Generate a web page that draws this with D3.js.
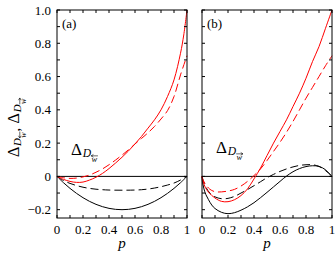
<!DOCTYPE html>
<html><head><meta charset="utf-8">
<script src="https://cdn.jsdelivr.net/npm/d3@7"></script>
<style>body{margin:0;background:#fff}svg{display:block}</style>
</head><body><svg id="c" width="335" height="256" font-family="'Liberation Serif', 'Times New Roman', Times, 'DejaVu Serif', serif"></svg>
<script>
// ---------- data ----------
const panelLabels = ["(a)", "(b)"];
const innerLabelArrows = ["left", "right"];
const xTickValues = [0, 0.2, 0.4, 0.6, 0.8, 1];
const xTickLabels = ["0", "0.2", "0.4", "0.6", "0.8", "1"];
const yTickValues = [-0.2, 0, 0.2, 0.4, 0.6, 0.8, 1.0];
const yTickLabels = ["\u22120.2", "0", "0.2", "0.4", "0.6", "0.8", "1.0"];

// panel (a)
const aBlackSolid = [[0,0],[0.05,-0.038],[0.1,-0.072],[0.15,-0.102],[0.2,-0.128],[0.25,-0.15],[0.3,-0.168],[0.35,-0.182],[0.4,-0.192],[0.45,-0.198],[0.5,-0.2],[0.55,-0.198],[0.6,-0.192],[0.65,-0.182],[0.7,-0.168],[0.75,-0.15],[0.8,-0.128],[0.85,-0.102],[0.9,-0.072],[0.95,-0.038],[1,0]];
const aBlackDashed = [[0,0],[0.05,-0.025],[0.1,-0.042],[0.15,-0.055],[0.2,-0.065],[0.25,-0.072],[0.3,-0.077],[0.35,-0.08],[0.4,-0.082],[0.5,-0.083],[0.6,-0.082],[0.65,-0.08],[0.7,-0.076],[0.75,-0.07],[0.8,-0.062],[0.85,-0.052],[0.9,-0.04],[0.95,-0.022],[1,0]];
const aRedSolid = [[0,0],[0.05,-0.018],[0.1,-0.03],[0.15,-0.036],[0.2,-0.034],[0.25,-0.022],[0.3,-0.005],[0.35,0.018],[0.4,0.047],[0.45,0.08],[0.5,0.115],[0.55,0.153],[0.6,0.195],[0.65,0.24],[0.7,0.29],[0.75,0.34],[0.8,0.4],[0.85,0.48],[0.9,0.58],[0.95,0.74],[0.975,0.85],[1,1.0]];
const aRedDashed = [[0,0],[0.05,-0.008],[0.1,-0.012],[0.15,-0.01],[0.2,-0.003],[0.25,0.008],[0.3,0.025],[0.35,0.045],[0.4,0.07],[0.45,0.098],[0.5,0.128],[0.55,0.16],[0.6,0.195],[0.65,0.228],[0.7,0.262],[0.75,0.3],[0.8,0.345],[0.85,0.395],[0.9,0.48],[0.95,0.61],[1,0.725]];

// panel (b)
const bBlackSolid = [[0,0],[0.005,-0.04],[0.015,-0.075],[0.03,-0.11],[0.05,-0.14],[0.075,-0.172],[0.1,-0.193],[0.15,-0.216],[0.2,-0.224],[0.25,-0.218],[0.3,-0.203],[0.35,-0.183],[0.4,-0.158],[0.45,-0.128],[0.5,-0.096],[0.55,-0.063],[0.6,-0.03],[0.65,0.002],[0.7,0.028],[0.75,0.047],[0.8,0.059],[0.85,0.064],[0.9,0.06],[0.95,0.04],[1,0]];
const bBlackDashed = [[0,0],[0.015,-0.04],[0.03,-0.065],[0.06,-0.1],[0.1,-0.123],[0.15,-0.134],[0.2,-0.132],[0.25,-0.12],[0.3,-0.1],[0.35,-0.079],[0.4,-0.056],[0.45,-0.032],[0.5,-0.008],[0.55,0.012],[0.6,0.03],[0.65,0.045],[0.7,0.057],[0.75,0.066],[0.8,0.07],[0.85,0.07],[0.9,0.06],[0.95,0.035],[1,0]];
const bRedSolid = [[0,0],[0.01,-0.035],[0.025,-0.065],[0.05,-0.095],[0.1,-0.13],[0.15,-0.15],[0.2,-0.152],[0.25,-0.14],[0.3,-0.115],[0.35,-0.075],[0.4,-0.015],[0.45,0.05],[0.5,0.125],[0.55,0.2],[0.6,0.27],[0.65,0.34],[0.7,0.42],[0.75,0.5],[0.8,0.59],[0.85,0.69],[0.9,0.78],[0.95,0.89],[1,1.0]];
const bRedDashed = [[0,0],[0.01,-0.025],[0.03,-0.05],[0.06,-0.077],[0.1,-0.092],[0.15,-0.093],[0.2,-0.088],[0.25,-0.078],[0.3,-0.058],[0.35,-0.03],[0.4,0.005],[0.45,0.045],[0.5,0.095],[0.55,0.15],[0.6,0.205],[0.65,0.265],[0.7,0.33],[0.75,0.4],[0.8,0.47],[0.85,0.535],[0.9,0.6],[0.95,0.665],[1,0.725]];

const panels = [
  {label: panelLabels[0], arrow: innerLabelArrows[0], series: [
    {d: aBlackSolid, c: "#000", dash: null},
    {d: aBlackDashed, c: "#000", dash: "8,4"},
    {d: aRedSolid, c: "#f00", dash: null},
    {d: aRedDashed, c: "#f00", dash: "8,4"}]},
  {label: panelLabels[1], arrow: innerLabelArrows[1], series: [
    {d: bBlackSolid, c: "#000", dash: null},
    {d: bBlackDashed, c: "#000", dash: "8,4"},
    {d: bRedSolid, c: "#f00", dash: null},
    {d: bRedDashed, c: "#f00", dash: "8,4"}]}
];

// ---------- layout ----------
const svg = d3.select("#c");
const panelX = [57, 202], panelW = 130;
const plotTop = 10, plotBottom = 218;
const y = d3.scaleLinear().domain([-0.25, 1.0]).range([plotBottom, plotTop]);
const xTicksMinor = d3.range(0, 1.0001, 0.1);
const yTicksMinor = d3.range(-0.2, 1.0001, 0.1);
const tl = 3;

// Δ with subscript D, sub-subscript w, and a drawn arrow over w
function deltaLabel(g, dir, fs) {
  const t = g.append("text");
  t.append("tspan").attr("font-size", fs).text("\u0394");
  t.append("tspan").attr("font-size", fs*0.68).attr("font-style", "italic")
    .attr("dx", fs*0.05).attr("dy", fs*0.12).text("D");
  t.append("tspan").attr("font-size", fs*0.5).attr("font-style", "italic")
    .attr("dx", fs*0.02).attr("dy", fs*0.3).text("w");
  const n = t.node();
  const s = n.getStartPositionOfChar(2).x, e = n.getEndPositionOfChar(2).x;
  const ay = fs*0.05, x0 = s - 0.3, x1 = e + 0.8, h = 1.4;
  let d;
  if (dir === "left") d = `M${x1},${ay}H${x0}M${x0+h*1.6},${ay-h}L${x0},${ay}L${x0+h*1.6},${ay+h}`;
  else d = `M${x0},${ay}H${x1}M${x1-h*1.6},${ay-h}L${x1},${ay}L${x1-h*1.6},${ay+h}`;
  g.append("path").attr("d", d).attr("fill", "none").attr("stroke", "#000").attr("stroke-width", 0.6);
  return e;
}

panels.forEach((P, i) => {
  const x = d3.scaleLinear().domain([0, 1]).range([panelX[i], panelX[i] + panelW]);
  const g = svg.append("g");
  const line = d3.line().x(d => x(d[0])).y(d => y(d[1])).curve(d3.curveCatmullRom);

  g.append("line").attr("x1", x(0)).attr("x2", x(1)).attr("y1", y(0)).attr("y2", y(0))
    .attr("stroke", "#000").attr("stroke-width", 1);

  P.series.forEach(s => {
    g.append("path").attr("d", line(s.d)).attr("fill", "none").attr("stroke", s.c)
      .attr("stroke-width", 1).attr("stroke-dasharray", s.dash);
  });

  xTicksMinor.forEach(v => {
    g.append("line").attr("x1", x(v)).attr("x2", x(v)).attr("y1", plotBottom).attr("y2", plotBottom - tl).attr("stroke", "#000");
    g.append("line").attr("x1", x(v)).attr("x2", x(v)).attr("y1", plotTop).attr("y2", plotTop + tl).attr("stroke", "#000");
  });
  yTicksMinor.forEach(v => {
    g.append("line").attr("x1", x(0)).attr("x2", x(0) + tl).attr("y1", y(v)).attr("y2", y(v)).attr("stroke", "#000");
    g.append("line").attr("x1", x(1)).attr("x2", x(1) - tl).attr("y1", y(v)).attr("y2", y(v)).attr("stroke", "#000");
  });

  g.append("rect").attr("x", x(0)).attr("y", plotTop).attr("width", panelW).attr("height", plotBottom - plotTop)
    .attr("fill", "none").attr("stroke", "#000").attr("stroke-width", 1);

  xTickValues.forEach((v, k) => {
    g.append("text").attr("x", x(v)).attr("y", 234).attr("text-anchor", "middle")
      .attr("font-size", 13).text(xTickLabels[k]);
  });
  g.append("text").attr("x", x(0.5)).attr("y", 248).attr("text-anchor", "middle")
    .attr("font-size", 15).attr("font-style", "italic").text("p");

  if (i === 0) {
    yTickValues.forEach((v, k) => {
      g.append("text").attr("x", 51).attr("y", y(v) + 4.5).attr("text-anchor", "end")
        .attr("font-size", 13).text(yTickLabels[k]);
    });
  }

  g.append("text").attr("x", x(0) + 5).attr("y", 28).attr("font-size", 13).text(P.label);

  const lg = g.append("g").attr("transform", `translate(${x(0) + 14},${i === 0 ? 155 : 153})`);
  deltaLabel(lg, P.arrow, 17);
});

// rotated y-axis label
const yl = svg.append("g").attr("transform", "translate(19,157) rotate(-90)");
const e1 = deltaLabel(yl.append("g"), innerLabelArrows[0], 16);
yl.append("text").attr("x", e1 + 1).attr("y", 1).attr("font-size", 15).text(",");
deltaLabel(yl.append("g").attr("transform", `translate(${e1 + 9},0)`), innerLabelArrows[1], 16);
</script></body></html>
